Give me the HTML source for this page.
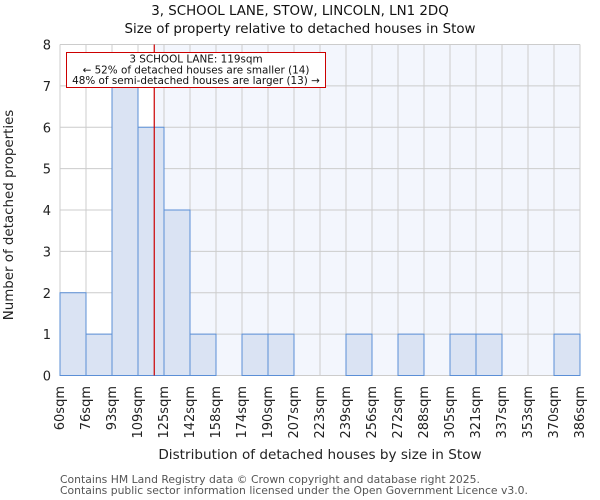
<!DOCTYPE html>
<html><head><meta charset="utf-8"><style>
body{margin:0;background:#fff}
svg{display:block;font-family:"DejaVu Sans","Liberation Sans",sans-serif}
</style></head><body>
<svg id="c" width="600" height="500"></svg>
<script>
const edges=[60,76,93,109,125,142,158,174,190,207,223,239,256,272,288,305,321,337,353,370,386];
const counts=[2,1,7,6,4,1,0,1,1,0,0,1,0,1,0,1,1,0,0,1];
const yTicks=[0,1,2,3,4,5,6,7,8];
const marker=119;
const NS="http://www.w3.org/2000/svg";
const svg=document.getElementById('c');
const L=60,R=580,T=44.5,B=375.5,nb=counts.length,bw=(R-L)/nb;
const xi=i=>L+i*bw;
const y=v=>B-(B-T)*v/8;
function xv(v){for(let i=0;i<nb;i++){if(v>=edges[i]&&v<=edges[i+1])return xi(i)+(v-edges[i])/(edges[i+1]-edges[i])*bw;}return L;}
function mk(t,a,txt){const e=document.createElementNS(NS,t);for(const k in a)e.setAttribute(k,a[k]);if(txt!=null)e.textContent=txt;svg.appendChild(e);return e;}
const mx=xv(marker);
let e;
e=mk('rect',{x:L,y:T,width:mx-L,height:B-T,fill:'#ffffff'});


e=mk('rect',{x:mx,y:T,width:R-mx,height:B-T,fill:'#f3f6fd'});


for(let i=0;i<=nb;i++){e=mk('line',{x1:xi(i),x2:xi(i),y1:T,y2:B,stroke:'#cccccc','stroke-width':1});

}
yTicks.forEach(v=>{e=mk('line',{x1:L,x2:R,y1:y(v),y2:y(v),stroke:'#cccccc','stroke-width':1});


e=mk('text',{x:L-9,y:y(v)+5,'text-anchor':'end','font-size':13,fill:'#222'},v);

});
counts.forEach((c,i)=>{if(c<=0)return;e=mk('rect',{x:xi(i),y:y(c),width:bw,height:y(0)-y(c),fill:'#dae3f3',stroke:'#5b8fd6','stroke-width':1});

});
edges.forEach((v,i)=>{const px=xi(i)+4,py=386;e=mk('text',{x:px,y:py,'text-anchor':'end','font-size':13,fill:'#222',transform:`rotate(-90 ${px} ${py})`},v+'sqm');

});
e=mk('line',{x1:mx,x2:mx,y1:T,y2:B,stroke:'#cc0000','stroke-width':1.2});


e=mk('rect',{x:66.5,y:52.5,width:259,height:35,fill:'#fff',stroke:'#cc0000','stroke-width':1});


[['3 SCHOOL LANE: 119sqm',62.5],['← 52% of detached houses are smaller (14)',73.5],['48% of semi-detached houses are larger (13) →',84]].forEach(([t,yy])=>{
e=mk('text',{x:196,y:yy,'text-anchor':'middle','font-size':10.4,fill:'#111'},t);

});
e=mk('text',{x:300,y:15,'text-anchor':'middle','font-size':13.4,fill:'#111'},'3, SCHOOL LANE, STOW, LINCOLN, LN1 2DQ');


e=mk('text',{x:300,y:33,'text-anchor':'middle','font-size':13.4,fill:'#111'},'Size of property relative to detached houses in Stow');


e=mk('text',{x:320,y:459,'text-anchor':'middle','font-size':13.6,fill:'#222'},'Distribution of detached houses by size in Stow');


e=mk('text',{x:13,y:215,'text-anchor':'middle','font-size':13.4,fill:'#222',transform:'rotate(-90 13 215)'},'Number of detached properties');


e=mk('text',{x:60,y:483,'font-size':10.8,fill:'#555'},'Contains HM Land Registry data © Crown copyright and database right 2025.');


e=mk('text',{x:60,y:494,'font-size':10.8,fill:'#555'},'Contains public sector information licensed under the Open Government Licence v3.0.');


</script>
</body></html>
